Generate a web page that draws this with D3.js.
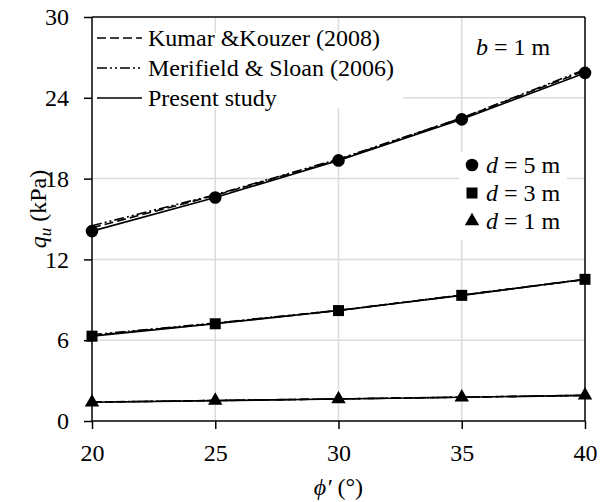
<!DOCTYPE html>
<html>
<head>
<meta charset="utf-8">
<script src="https://cdn.jsdelivr.net/npm/d3@7/dist/d3.min.js"></script>
<style>
  html, body { margin: 0; padding: 0; background: #fff; }
  svg { display: block; }
</style>
</head>
<body>
<svg id="chart" width="602" height="502"></svg>
<script>
// ---- data ----
const phi = [20, 25, 30, 35, 40];
const xTicks = [20, 25, 30, 35, 40];
const yTicks = [0, 6, 12, 18, 24, 30];

// Present study
const present_d5 = [14.1, 16.6, 19.35, 22.4, 25.85];
const present_d3 = [6.3, 7.22, 8.2, 9.33, 10.52];
const present_d1 = [1.39, 1.51, 1.63, 1.76, 1.9];
// Kumar & Kouzer (2008)
const kumar_d5 = [14.35, 16.75, 19.4, 22.5, 26.0];
const kumar_d3 = [6.35, 7.25, 8.2, 9.35, 10.5];
const kumar_d1 = [1.4, 1.52, 1.64, 1.77, 1.9];
// Merifield & Sloan (2006)
const merif_d5 = [14.5, 16.8, 19.45, 22.5, 26.1];
const merif_d3 = [6.4, 7.28, 8.22, 9.35, 10.52];
const merif_d1 = [1.41, 1.52, 1.64, 1.77, 1.91];

const lineLegend = ["Kumar &Kouzer (2008)", "Merifield & Sloan (2006)", "Present study"];
const markerLegend = ["5", "3", "1"];

// ---- layout ----
const svg = d3.select("#chart");
const L = 92, R = 585, T = 17, B = 421;
const x = d3.scaleLinear().domain([20, 40]).range([L, R]);
const y = d3.scaleLinear().domain([0, 30]).range([B, T]);
const font = "Liberation Serif";
const fs = 24;

// gridlines
const grid = svg.append("g").attr("stroke", "#dcdcdc").attr("stroke-width", 1.5);
grid.selectAll("line.h").data(yTicks.slice(1, -1)).join("line")
  .attr("x1", L).attr("x2", R).attr("y1", d => y(d)).attr("y2", d => y(d));
grid.selectAll("line.v").data(xTicks.slice(1, -1)).join("line")
  .attr("y1", T).attr("y2", B).attr("x1", d => x(d)).attr("x2", d => x(d));

// frame (top + right)
svg.append("line").attr("x1", L).attr("x2", R).attr("y1", T).attr("y2", T).attr("stroke", "#000").attr("stroke-width", 1.5);
svg.append("line").attr("x1", R).attr("x2", R).attr("y1", T).attr("y2", B).attr("stroke", "#000").attr("stroke-width", 1.5);

// legend background boxes
svg.append("rect").attr("x", L + 1).attr("y", 33).attr("width", 310).attr("height", 75).attr("fill", "#fff");
svg.append("rect").attr("x", 459).attr("y", 152).attr("width", 108).attr("height", 88).attr("fill", "#fff");

// axes
const xAxis = d3.axisBottom(x).tickValues(xTicks).tickSize(8).tickPadding(15).tickFormat(d3.format("d"));
const yAxis = d3.axisLeft(y).tickValues(yTicks).tickSize(8).tickPadding(15).tickFormat(d3.format("d"));
const gx = svg.append("g").attr("transform", `translate(0,${B})`).call(xAxis);
const gy = svg.append("g").attr("transform", `translate(${L},0)`).call(yAxis);
[gx, gy].forEach(g => {
  g.attr("font-family", font).attr("font-size", fs);
  g.select(".domain").attr("stroke", "#000").attr("stroke-width", 1.5);
  g.selectAll(".tick line").attr("stroke", "#000").attr("stroke-width", 1.5);
  g.selectAll(".tick text").attr("fill", "#000").attr("font-family", font).attr("font-size", fs);
});
gx.select(".domain").attr("d", `M${L},0H${R}`);
gy.select(".domain").attr("d", `M0,${B}V${T}`);

// lines
const line = d3.line().x((d, i) => x(phi[i])).y(d => y(d));
const dashKumar = "9,4";
const dashMerif = "10,3,2,3,2,3";
function drawLine(data, dash) {
  svg.append("path").attr("d", line(data)).attr("fill", "none").attr("stroke", "#000")
    .attr("stroke-width", 1.6).attr("stroke-dasharray", dash);
}
[kumar_d5, kumar_d3, kumar_d1].forEach(d => drawLine(d, dashKumar));
[merif_d5, merif_d3, merif_d1].forEach(d => drawLine(d, dashMerif));
[present_d5, present_d3, present_d1].forEach(d => drawLine(d, null));

// markers
const symCircle = d3.symbol().type(d3.symbolCircle).size(125);
const symSquare = d3.symbol().type(d3.symbolSquare).size(121);
const symTri = d3.symbol().type(d3.symbolTriangle).size(90);
function drawMarkers(data, sym) {
  svg.append("g").selectAll("path").data(data).join("path")
    .attr("d", sym).attr("transform", (d, i) => `translate(${x(phi[i])},${y(d)})`).attr("fill", "#000");
}
drawMarkers(present_d5, symCircle);
drawMarkers(present_d3, symSquare);
drawMarkers(present_d1, symTri);

// line legend
const lg = svg.append("g");
const dashes = [dashKumar, dashMerif, null];
lineLegend.forEach((t, i) => {
  const yy = 38 + i * 30;
  lg.append("line").attr("x1", 97).attr("x2", 142).attr("y1", yy).attr("y2", yy)
    .attr("stroke", "#000").attr("stroke-width", 1.6).attr("stroke-dasharray", dashes[i]);
  lg.append("text").attr("x", 148).attr("y", yy + 8).text(t)
    .attr("font-family", font).attr("font-size", fs).attr("fill", "#000");
});

// b = 1 m
const bt = svg.append("text").attr("x", 476).attr("y", 55).attr("font-family", font).attr("font-size", fs);
bt.append("tspan").attr("font-style", "italic").text("b");
bt.append("tspan").text(" = 1 m");

// marker legend
const syms = [symCircle, symSquare, symTri];
markerLegend.forEach((v, i) => {
  const yy = 165 + i * 28;
  svg.append("path").attr("d", syms[i]).attr("transform", `translate(472,${yy})`).attr("fill", "#000");
  const t = svg.append("text").attr("x", 486).attr("y", yy + 8).attr("font-family", font).attr("font-size", fs);
  t.append("tspan").attr("font-style", "italic").text("d");
  t.append("tspan").text(` = ${v} m`);
});

// axis titles
const yt = svg.append("text").attr("transform", `translate(46,${(T + B) / 2 - 10}) rotate(-90)`)
  .attr("text-anchor", "middle").attr("font-family", font).attr("font-size", fs);
yt.append("tspan").attr("font-style", "italic").text("q");
yt.append("tspan").attr("font-style", "italic").attr("font-size", 17).attr("dy", 5).text("u");
yt.append("tspan").attr("dy", -5).text(" (kPa)");

const xt = svg.append("text").attr("x", (L + R) / 2).attr("y", 495)
  .attr("text-anchor", "middle").attr("font-family", font).attr("font-size", fs);
xt.append("tspan").attr("font-style", "italic").text("\u03D5\u2032");
xt.append("tspan").text(" (\u00B0)");
</script>
</body>
</html>
